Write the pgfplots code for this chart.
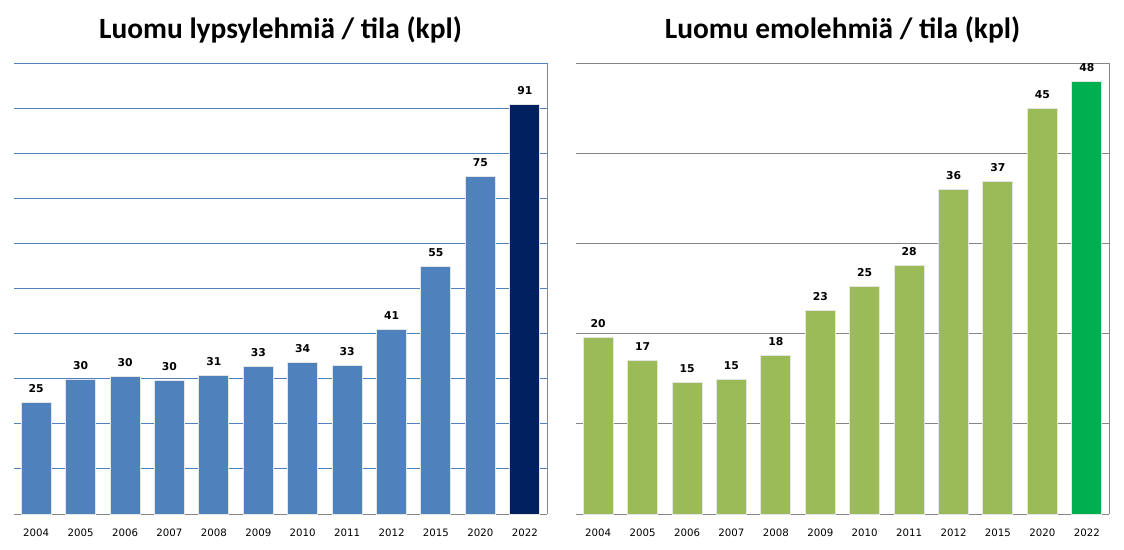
\documentclass[border=0pt]{standalone}
\usepackage{pgfplots}
\pgfplotsset{compat=1.18}
\usepackage{fontspec}
\setmainfont{DejaVu Sans}
\newfontfamily\titlefont{Carlito}
\definecolor{lblue}{HTML}{4F81BD}
\definecolor{dnavy}{HTML}{002060}
\definecolor{lgreen}{HTML}{9BBB59}
\definecolor{dgreen}{HTML}{00B050}
\definecolor{axgray}{HTML}{868686}
\pgfplotsset{mystyle/.style={
  scale only axis, width=533pt, height=451pt,
  xmin=-0.5, xmax=11.5, ymin=0,
  xtick={0,...,11},
  xticklabels={2004,2005,2006,2007,2008,2009,2010,2011,2012,2015,2020,2022},
  axis x line*=bottom, axis y line*=right,
  axis line style={-, axgray, line width=1pt},
  yticklabels={}, major tick length=0pt,
  ymajorgrids,
  ybar, bar width=30pt,
  nodes near coords,
  nodes near coords style={font=\fontsize{10.8}{12}\selectfont\bfseries, anchor=base, inner sep=0pt, yshift=10pt,
    /pgf/number format/fixed, /pgf/number format/precision=0, /pgf/number format/assume math mode=true},
  xticklabel style={font=\fontsize{10.2}{12}\selectfont, anchor=base, inner sep=0pt, yshift=-22pt},
  clip=false,
}}
\begin{document}
\begin{tikzpicture}[x=1pt,y=1pt]
\path[use as bounding box] (0,0) rectangle (1124,549);
\node[anchor=base, font=\titlefont\bfseries\fontsize{29.4}{32}\selectfont] at (280.5,510) {Luomu lypsylehmiä / tila (kpl)};
\node[anchor=base, font=\titlefont\bfseries\fontsize{29.4}{32}\selectfont] at (842.5,510) {Luomu emolehmiä / tila (kpl)};
\begin{axis}[mystyle, at={(14pt,35pt)}, anchor=south west,
  ymax=100, ytick={0,10,...,100},
  grid style={lblue, line width=0.9pt}]
\addplot[bar shift=0pt, fill=lblue, draw=black!10, line width=1pt] coordinates {
(0,24.8) (1,29.9) (2,30.4) (3,29.7) (4,30.6) (5,32.8) (6,33.6) (7,33.0) (8,40.8) (9,54.8) (10,74.9)};
\addplot[bar shift=0pt, fill=dnavy, draw=black!10, line width=1pt] coordinates {(11,90.9)};
\end{axis}
\begin{axis}[mystyle, at={(576pt,35pt)}, anchor=south west,
  ymax=50, ytick={0,10,...,50},
  grid style={axgray, line width=0.9pt}]
\addplot[bar shift=0pt, fill=lgreen, draw=black!10, line width=1pt] coordinates {
(0,19.6) (1,17.0) (2,14.6) (3,14.9) (4,17.6) (5,22.6) (6,25.2) (7,27.6) (8,36.0) (9,36.9) (10,45.0)};
\addplot[bar shift=0pt, fill=dgreen, draw=black!10, line width=1pt] coordinates {(11,47.9)};
\end{axis}
\end{tikzpicture}
\end{document}
